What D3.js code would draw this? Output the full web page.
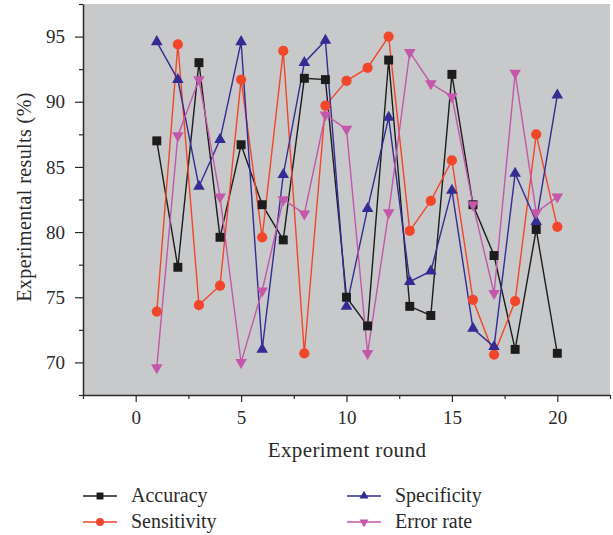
<!DOCTYPE html>
<html>
<head>
<meta charset="utf-8">
<script src="https://cdn.jsdelivr.net/npm/d3@7"></script>
<style>
  html, body { margin: 0; padding: 0; background: #fff; }
  svg { display: block; }
</style>
</head>
<body>
<svg id="chart"></svg>
<script>
// Experiment rounds
const rounds = d3.range(1, 21);

// Series values (%)
const accuracy    = [87.0, 77.3, 93.0, 79.6, 86.7, 82.1, 79.4, 91.8, 91.7, 75.0,
                     72.8, 93.2, 74.3, 73.6, 92.1, 82.1, 78.2, 71.0, 80.2, 70.7];
const sensitivity = [73.9, 94.4, 74.4, 75.9, 91.7, 79.6, 93.9, 70.7, 89.7, 91.6,
                     92.6, 95.0, 80.1, 82.4, 85.5, 74.8, 70.6, 74.7, 87.5, 80.4];
const specificity = [94.6, 91.7, 83.5, 87.1, 94.6, 71.0, 84.4, 93.0, 94.7, 74.3,
                     81.8, 88.8, 76.2, 77.0, 83.2, 72.6, 71.2, 84.5, 80.8, 90.5];
const errorRate   = [69.6, 87.4, 91.7, 82.7, 70.0, 75.5, 82.5, 81.4, 89.0, 87.9,
                     70.7, 81.5, 93.8, 91.4, 90.4, 82.1, 75.3, 92.2, 81.5, 82.7];

const xTicks = [0, 5, 10, 15, 20];
const yTicks = [70, 75, 80, 85, 90, 95];

const series = [
  { name: 'Accuracy',    values: accuracy,    color: '#1c1c1c', symbol: d3.symbolSquare,   rot: 0,   size: 80 },
  { name: 'Sensitivity', values: sensitivity, color: '#f2462a', symbol: d3.symbolCircle,   rot: 0,   size: 82 },
  { name: 'Specificity', values: specificity, color: '#332c94', symbol: d3.symbolTriangle, rot: 0,   size: 58 },
  { name: 'Error rate',  values: errorRate,   color: '#c457a9', symbol: d3.symbolTriangle, rot: 180, size: 58 }
];

const W = 613, H = 535;
const margin = { top: 4, right: 3, bottom: 140, left: 83 };
const width  = W - margin.left - margin.right;
const height = H - margin.top  - margin.bottom;
const font = '"Liberation Serif", "Times New Roman", serif';
const ink = '#2a2a2a';

const svg = d3.select('#chart').attr('width', W).attr('height', H);
const g = svg.append('g').attr('transform', `translate(${margin.left},${margin.top})`);

const x = d3.scaleLinear().domain([-2.5, 22.5]).range([0, width]);
const y = d3.scaleLinear().domain([67.5, 97.5]).range([height, 0]);

// Plot background
g.append('rect')
  .attr('width', width).attr('height', height)
  .attr('fill', '#c8c9cb');

// Minor ticks
g.append('g').attr('transform', `translate(0,${height})`)
  .call(d3.axisBottom(x).tickValues(d3.range(-2.5, 23, 5)).tickSize(4).tickFormat(''))
  .call(ax => ax.select('.domain').remove())
  .call(ax => ax.selectAll('line').attr('stroke', ink).attr('stroke-width', 1.2));

g.append('g')
  .call(d3.axisLeft(y).tickValues(d3.range(67.5, 98, 5)).tickSize(4).tickFormat(''))
  .call(ax => ax.select('.domain').remove())
  .call(ax => ax.selectAll('line').attr('stroke', ink).attr('stroke-width', 1.2));

// Major axes
g.append('g').attr('transform', `translate(0,${height})`)
  .call(d3.axisBottom(x).tickValues(xTicks).tickSize(7).tickSizeOuter(0).tickPadding(9))
  .call(ax => ax.select('.domain').attr('stroke', ink).attr('stroke-width', 1.5))
  .call(ax => ax.selectAll('line').attr('stroke', ink).attr('stroke-width', 1.2))
  .call(ax => ax.selectAll('text').attr('fill', ink).attr('font-size', 19).attr('font-family', font));

g.append('g')
  .call(d3.axisLeft(y).tickValues(yTicks).tickSize(8).tickSizeOuter(0).tickPadding(10))
  .call(ax => ax.select('.domain').attr('stroke', ink).attr('stroke-width', 1.5))
  .call(ax => ax.selectAll('line').attr('stroke', ink).attr('stroke-width', 1.2))
  .call(ax => ax.selectAll('text').attr('fill', ink).attr('font-size', 19).attr('font-family', font));

// Axis labels
svg.append('text')
  .attr('x', 347).attr('y', 457)
  .attr('text-anchor', 'middle').attr('fill', ink)
  .attr('font-size', 21).attr('font-family', font)
  .attr('letter-spacing', 0.4)
  .text('Experiment round');

svg.append('text')
  .attr('transform', 'translate(31,197) rotate(-90)')
  .attr('text-anchor', 'middle').attr('fill', ink)
  .attr('font-size', 20).attr('font-family', font)
  .attr('letter-spacing', 0.4)
  .text('Experimental results (%)');

// Lines and markers
const line = d3.line().x((d, i) => x(rounds[i])).y(d => y(d));

series.forEach(s => {
  g.append('path')
    .attr('d', line(s.values))
    .attr('fill', 'none')
    .attr('stroke', s.color)
    .attr('stroke-width', 1.4);
});

series.forEach(s => {
  g.selectAll(null)
    .data(s.values)
    .join('path')
    .attr('d', d3.symbol(s.symbol, s.size))
    .attr('transform', (d, i) => `translate(${x(rounds[i])},${y(d)}) rotate(${s.rot})`)
    .attr('fill', s.color);
});

// Legend
const legendPos = [
  { lx: 83,  ly: 496 }, { lx: 83,  ly: 522 },
  { lx: 347, ly: 496 }, { lx: 347, ly: 522 }
];

series.forEach((s, i) => {
  const p = legendPos[i];
  const lg = svg.append('g').attr('transform', `translate(${p.lx},${p.ly})`);
  lg.append('line')
    .attr('x1', 0).attr('x2', 34)
    .attr('stroke', s.color).attr('stroke-width', 1.4);
  lg.append('path')
    .attr('d', d3.symbol(s.symbol, s.size * 0.6))
    .attr('transform', `translate(17,0) rotate(${s.rot})`)
    .attr('fill', s.color);
  lg.append('text')
    .attr('x', 48).attr('y', 6)
    .attr('fill', ink).attr('font-size', 20).attr('font-family', font)
    .text(s.name);
});
</script>
</body>
</html>
